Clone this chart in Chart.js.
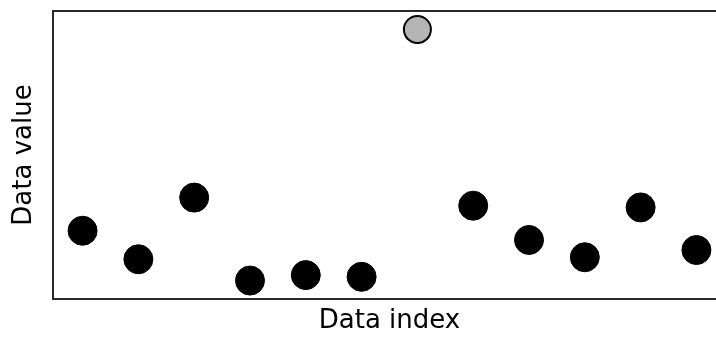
<!DOCTYPE html>
<html>
<head>
<meta charset="utf-8">
<script src="https://cdn.jsdelivr.net/npm/chart.js@4"></script>
<style>
  html, body { margin: 0; padding: 0; background: #fff; overflow: hidden; }
  #wrap { width: 716px; height: 337px; overflow: hidden; }
</style>
</head>
<body>
<div id="wrap"><canvas id="chartcanvas" width="740" height="337"></canvas></div>
<script>
// values
const indexes = [0, 1, 2, 3, 4, 5, 6, 7, 8, 9, 10, 11];
const values = [2.37, 1.38, 3.52, 0.64, 0.83, 0.77, 9.36, 3.24, 2.05, 1.45, 3.18, 1.70];
const outlierIndex = 6;

const canvas = document.getElementById('chartcanvas');
const ctx = canvas.getContext('2d');

// box around the plot area, like a matplotlib axes frame
const frame = {
  id: 'frame',
  afterDraw(chart) {
    const a = chart.chartArea;
    const c = chart.ctx;
    c.save();
    c.strokeStyle = '#111';
    c.lineWidth = 1.8;
    c.strokeRect(a.left, a.top, a.right - a.left, a.bottom - a.top);
    c.restore();
  }
};

const points = indexes.map((x, i) => ({x: x, y: values[i]}));
const fills = indexes.map(i => i === outlierIndex ? '#b5b5b5' : '#000');
const borders = indexes.map(i => i === outlierIndex ? 2 : 1);
const radii = indexes.map(i => i === outlierIndex ? 13.5 : 14.5);

new Chart(ctx, {
  type: 'scatter',
  data: {
    datasets: [{
      label: 'data',
      data: points,
      backgroundColor: fills,
      borderColor: '#000',
      borderWidth: borders,
      pointRadius: radii,
      pointHoverRadius: radii,
      clip: false
    }]
  },
  options: {
    responsive: false,
    animation: false,
    events: [],
    layout: {
      autoPadding: false,
      padding: {top: 11, left: 0, right: 14, bottom: 0}
    },
    scales: {
      x: {
        type: 'linear',
        min: -0.53,
        max: 11.53,
        grid: {display: false},
        border: {display: false},
        ticks: {display: false},
        title: {
          display: true,
          text: 'Data index',
          color: '#000',
          font: {family: 'DejaVu Sans', size: 26},
          padding: {top: 0, bottom: 0}
        },
        afterFit(scale) { scale.height = 38; }
      },
      y: {
        type: 'linear',
        min: 0,
        max: 10,
        grid: {display: false},
        border: {display: false},
        ticks: {display: false},
        title: {
          display: true,
          text: 'Data value',
          color: '#000',
          font: {family: 'DejaVu Sans', size: 26},
          padding: {top: 9, bottom: 0}
        },
        afterFit(scale) { scale.width = 53; }
      }
    },
    plugins: {
      legend: {display: false},
      tooltip: {enabled: false}
    }
  },
  plugins: [frame]
});
</script>
</body>
</html>
